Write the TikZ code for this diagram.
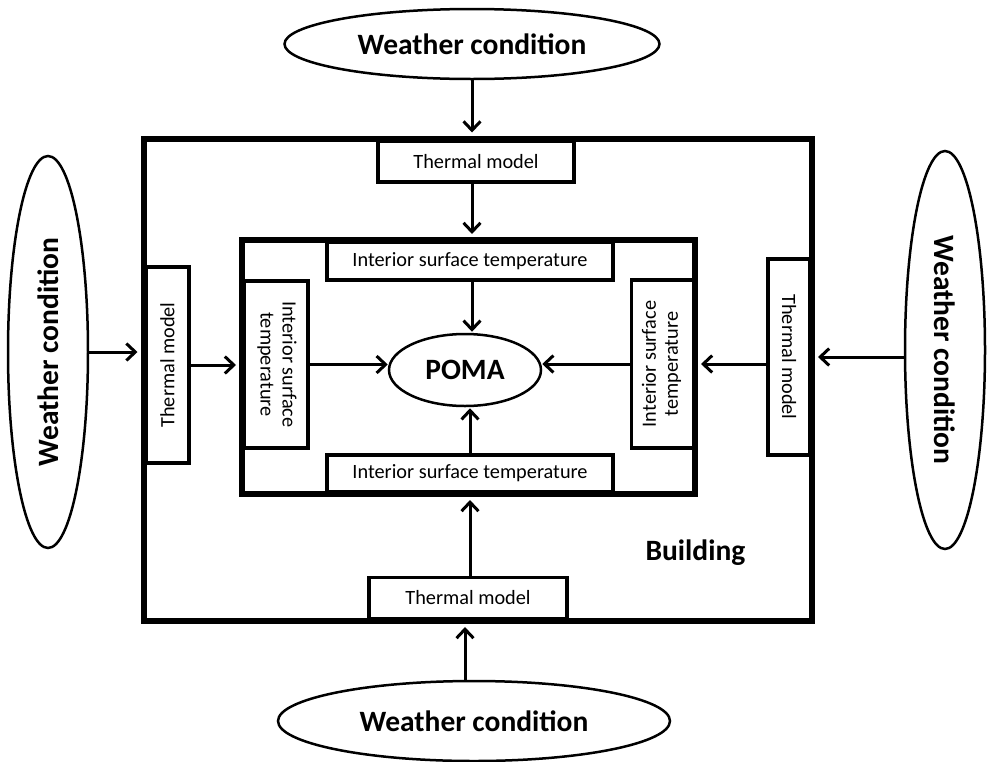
\documentclass[tikz,border=0pt]{standalone}
\usepackage{fontspec}
\setmainfont{Carlito}
\usetikzlibrary{shapes.geometric,arrows.meta}
\tikzset{
  bigtext/.style={font=\fontsize{29.5}{32}\selectfont\bfseries},
  smalltext/.style={font=\fontsize{20.3}{22}\selectfont},
  wellipse/.style={draw, ellipse, line width=2.5pt, inner sep=0pt, bigtext},
  smallbox/.style={draw, rectangle, line width=3.2pt, inner sep=0pt, smalltext, fill=white},
  bigbox/.style={draw, rectangle, line width=6pt, inner sep=0pt},
  arr/.style={line width=3pt, -{Straight Barb[length=9pt,width=17pt]}},
}
\newcommand{\twol}[2]{\begin{tabular}{@{}c@{}}#1\\#2\end{tabular}}
\begin{document}
\begin{tikzpicture}[x=1pt,y=1pt]
\useasboundingbox (0,0) rectangle (988,-761);
% small boxes
\node[smallbox, minimum width=196pt, minimum height=41pt] (tT) at (476,-161.5) {Thermal model};
\node[smallbox, minimum width=286pt, minimum height=38pt] (tI) at (470,-261) {Interior surface temperature};
\node[smallbox, minimum width=286pt, minimum height=37pt] (bI) at (470,-473.5) {Interior surface temperature};
\node[smallbox, minimum width=198pt, minimum height=41pt] (bT) at (468,-598) {Thermal model};
\node[smallbox, minimum width=43pt, minimum height=196pt] (lT) at (167.5,-365) {\rotatebox{90}{Thermal model}};
\node[smallbox, minimum width=64pt, minimum height=167pt] (lI) at (276,-364.5) {\rotatebox{-90}{\twol{Interior surface}{temperature}}};
\node[smallbox, minimum width=62pt, minimum height=168pt] (rI) at (662.5,-364) {\rotatebox{90}{\twol{Interior surface}{temperature}}};
\node[smallbox, minimum width=42pt, minimum height=196pt] (rT) at (789,-357) {\rotatebox{-90}{Thermal model}};
% big boxes
\node[bigbox, minimum width=668.5pt, minimum height=482.5pt] (bld) at (477.75,-379.75) {};
\node[bigbox, minimum width=453pt, minimum height=254pt] (inn) at (468.5,-367) {};
\node[bigtext, anchor=west] (blabel) at (642,-553) {Building};
% ellipses
\node[wellipse, minimum width=375pt, minimum height=70pt] (wT) at (472,-44) {Weather condition};
\node[wellipse, minimum width=392pt, minimum height=80pt] (wB) at (474,-721) {Weather condition};
\node[wellipse, minimum width=80pt, minimum height=392pt] (wL) at (48,-352) {\rotatebox{90}{Weather condition}};
\node[wellipse, minimum width=80pt, minimum height=398pt] (wR) at (945,-350) {\rotatebox{-90}{Weather condition}};
\node[wellipse, minimum width=152pt, minimum height=72pt] (P) at (465,-370) {POMA};
% arrows
\draw[arr, shorten >=3pt] (wT.south) -- (wT.south |- bld.north);
\draw[arr, shorten >=3pt] (tT.south -| wT.south) -- (wT.south |- inn.north);
\draw[arr] (tI.south -| wT.south) -- ([yshift=1pt]wT.south |- P.north);
\draw[arr, shorten >=3pt] (wL.east) -- (wL.east -| bld.west);
\draw[arr, shorten >=3pt] (lT.east) -- (lT.east -| inn.west);
\draw[arr] (lI.east) -- (lI.east -| P.west);
\draw[arr, shorten >=3pt] (wR.west |- rT.center) -- (rT.center -| bld.east);
\draw[arr, shorten >=3pt] (rT.west |- rI.center) -- (rI.center -| inn.east);
\draw[arr] (rI.west) -- (rI.west -| P.east);
\draw[arr, shorten >=3pt] (wB.north -| P.center) -- (P.center |- bld.south);
\draw[arr, shorten >=3pt] (bT.north -| tI.center) -- (tI.center |- inn.south);
\draw[arr] (bI.north -| tI.center) -- ([yshift=-1pt]tI.center |- P.south);
\end{tikzpicture}
\end{document}
